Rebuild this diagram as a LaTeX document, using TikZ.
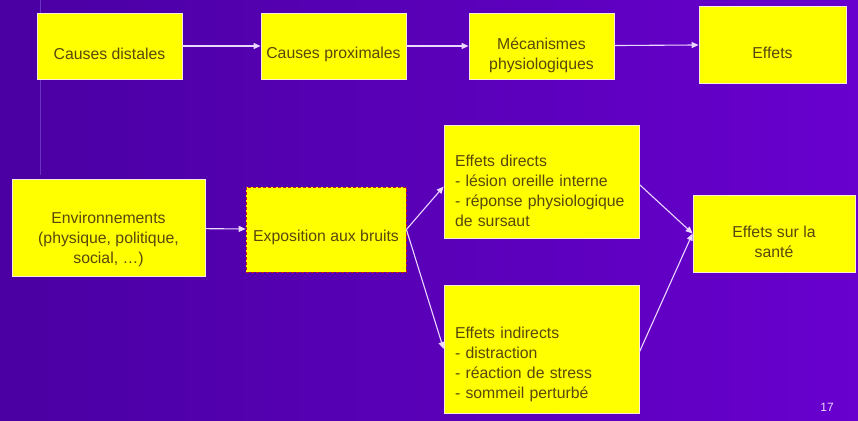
\documentclass[tikz,border=0pt]{standalone}
\usepackage{fontspec}
\setmainfont{Liberation Sans}
\usetikzlibrary{arrows.meta}
\definecolor{slideleft}{RGB}{74,0,162}
\definecolor{slideright}{RGB}{104,0,206}
\definecolor{slideline}{RGB}{108,50,196}
\definecolor{boxyellow}{RGB}{255,255,0}
\definecolor{boxedge}{RGB}{255,236,214}
\definecolor{boxtext}{RGB}{88,72,12}
\definecolor{arrowline}{RGB}{236,216,255}
\definecolor{dashred}{RGB}{190,30,20}

\begin{document}
\begin{tikzpicture}[x=1pt,y=-1pt,
  box/.style={draw=boxedge, line width=0.8pt, fill=boxyellow, text=boxtext,
    font=\fontsize{15.8}{20}\selectfont, inner sep=0pt, align=center},
  listbox/.style={box, align=left, inner xsep=11pt, text width=173pt},
  conn/.style={draw=arrowline, line width=1.1pt, -{Triangle[length=7pt,width=6pt]}}]
% background of the slide
\useasboundingbox (0,0) rectangle (858,420);
\shade[left color=slideleft, right color=slideright] (0,0) rectangle (858,420);
\draw[slideline, line width=0.6pt] (40,0) -- (40,175);

% top row
\node[box, minimum width=145pt, minimum height=66pt] (distal) at (109.5,46) {\rule{0pt}{28pt}Causes distales};
\node[box, minimum width=145pt, minimum height=66pt] (proximal) at (333.5,46) {\rule{0pt}{28pt}Causes proximales};
\node[box, minimum width=145pt, minimum height=66pt] (mecan) at (541.5,46) {\rule{0pt}{31pt}Mécanismes\\physiologiques};
\node[box, minimum width=147pt, minimum height=77pt] (effets) at (772.5,44.5) {\rule{0pt}{28pt}Effets};

\draw[conn] (distal) -- (proximal);
\draw[conn] (proximal) -- (mecan);
\draw[conn] (mecan) -- (effets);

% bottom part
\node[box, minimum width=193pt, minimum height=97pt] (env) at (108.5,228) {\rule{0pt}{34pt}Environnements\\(physique, politique,\\social, \dots)};
\node[box, draw=dashred, densely dashed, minimum width=160pt, minimum height=85pt] (expo) at (326,229.5) {\rule{0pt}{28pt}Exposition aux bruits};
\node[listbox, minimum height=113pt] (direct) at (541.5,181.5) {\rule{0pt}{30pt}Effets directs\\- lésion oreille interne\\- réponse physiologique\\de sursaut};
\node[listbox, minimum height=128pt] (indirect) at (541.5,349) {\rule{0pt}{42pt}Effets indirects\\- distraction\\- réaction de stress\\- sommeil perturbé};
\node[box, minimum width=162pt, minimum height=77pt] (sante) at (774,233.5) {\rule{0pt}{29pt}Effets sur la\\santé};

\draw[conn] (env) -- (expo);
\draw[conn] (expo.east) -- ([yshift=-5pt]direct.west);
\draw[conn] (expo.east) -- (indirect.west);
\draw[conn] ([yshift=-3pt]direct.east) -- (sante.west);
\draw[conn] ([yshift=-3pt]indirect.east) -- (sante.west);

\node[text=arrowline, font=\fontsize{12}{14}\selectfont] (pagenum) at (827,407) {17};
\end{tikzpicture}
\end{document}
